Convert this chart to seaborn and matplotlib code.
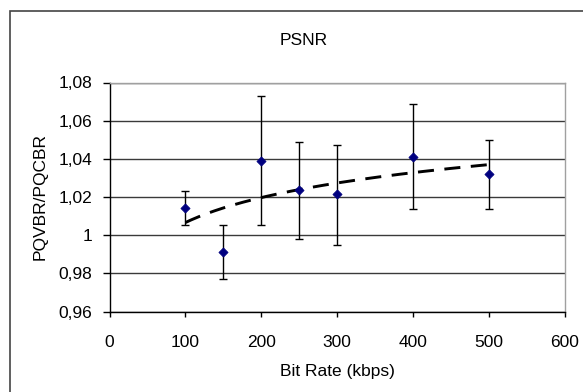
import numpy as np
import pandas as pd
import matplotlib
matplotlib.use("Agg")
import matplotlib.pyplot as plt
import seaborn as sns
from matplotlib.ticker import FuncFormatter, MultipleLocator
from matplotlib.patches import Rectangle

bit_rate = [100, 150, 200, 250, 300, 400, 500]
ratio = [1.0140, 0.9910, 1.0390, 1.0235, 1.0214, 1.0407, 1.0320]
err_upper = [1.0233, 1.0053, 1.0728, 1.0486, 1.0474, 1.0688, 1.0500]
err_lower = [1.0053, 0.9770, 1.0053, 0.9980, 0.9949, 1.0135, 1.0135]

sns.set_theme(style="white")
plt.rcParams['font.family'] = ['Liberation Sans', 'DejaVu Sans']

FS = 12.5
fig = plt.figure(figsize=(5.83, 3.92), dpi=100)
W, H = 583, 392
L, R, T, B = 109.5, 565, 82.5, 311.5
ax = fig.add_axes([L / W, 1 - B / H, (R - L) / W, (B - T) / H])

df = pd.DataFrame({"x": bit_rate, "y": ratio})
yerr = np.array([np.array(ratio) - np.array(err_lower), np.array(err_upper) - np.array(ratio)])
ax.errorbar(bit_rate, ratio, yerr=yerr, fmt="none", ecolor="black", elinewidth=1,
            capsize=2.6, capthick=1, zorder=3)

# logarithmic trendline fitted to the data
b, a = np.polyfit(np.log(bit_rate), ratio, 1)
xt = np.linspace(min(bit_rate), max(bit_rate), 200)
trend = pd.DataFrame({"x": xt, "y": a + b * np.log(xt)})
sns.lineplot(data=trend, x="x", y="y", ax=ax, color="black", lw=2.1,
             dashes=False, zorder=4)
ax.lines[-1].set_dashes([5.5, 3.6])

sns.scatterplot(data=df, x="x", y="y", ax=ax, marker="D", s=22, color="#000080",
                edgecolor="#000080", linewidth=0.5, zorder=5)

ax.set_xlim(0, 600)
ax.set_ylim(0.96, 1.08)
ax.xaxis.set_major_locator(MultipleLocator(100))
ax.yaxis.set_major_locator(MultipleLocator(0.02))

def yfmt(v, pos):
    s = f"{v:.2f}".rstrip("0").rstrip(".")
    return s.replace(".", ",")
ax.yaxis.set_major_formatter(FuncFormatter(yfmt))

ax.grid(axis="y", color="#3a3a3a", lw=1)
ax.grid(axis="x", visible=False)
ax.set_axisbelow(True)

for s in ["top", "right"]:
    ax.spines[s].set_color("#a0a0a0")
    ax.spines[s].set_linewidth(1)
for s in ["left", "bottom"]:
    ax.spines[s].set_color("black")
    ax.spines[s].set_linewidth(1)

ax.tick_params(axis="y", which="major", direction="out", length=5, width=1,
               color="black", labelsize=FS, labelcolor="black", pad=7.5, left=True)
ax.tick_params(axis="x", which="major", direction="out", length=3.6, width=1,
               color="black", labelsize=FS, labelcolor="black", pad=13.5, bottom=True)

ax.set_xlabel("Bit Rate (kbps)", fontsize=FS, color="black", labelpad=10)
ax.set_ylabel("PQVBR/PQCBR", fontsize=FS, color="black", labelpad=8)

fig.text(303.5 / W, 1 - 44.6 / H, "PSNR", fontsize=FS, color="black",
         ha="center", va="baseline")

fig.patches.append(Rectangle((10 / W, -0.1), 1.0, 1 - 10.5 / H + 0.1,
                             transform=fig.transFigure, fill=False,
                             edgecolor="#444444", lw=1.2))

fig.savefig("out.png", dpi=100)
